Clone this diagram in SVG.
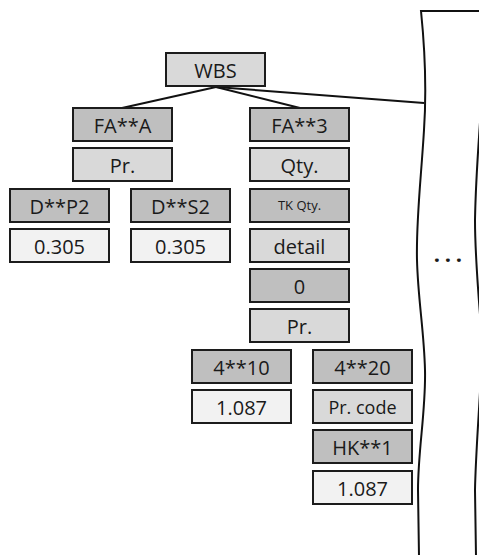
<svg xmlns="http://www.w3.org/2000/svg" width="479" height="555" viewBox="0 0 479 555">
<style>
rect{stroke:#1c1c1c;stroke-width:2}
.d{fill:#bfbfbf}.l{fill:#d9d9d9}.w{fill:#f2f2f2}
text{font-family:"Open Sans","Noto Sans",sans-serif;font-size:20px;fill:#1a1a1a;text-anchor:middle}
.sm{font-size:13px}
.c{stroke:#111;stroke-width:2;fill:none}
</style>
<g id="panel">
<path class="c" d="M482,11 L421,11 C426,60 426,100 424,130 C421,180 416,220 417,260 C418,300 424,330 425,370 C426,410 418,450 418,490 L419,556" stroke-width="1.8"/>
<path class="c" d="M482,80 C482,110 476,160 475,220 C475,260 479,300 482,340 C482,380 476,440 475,490 L476,556" stroke-width="1.8"/>
<text x="437 448 459" y="262" style="font-weight:bold;font-size:22px">...</text>
</g>
<g id="connectors">
<line class="c" x1="216" y1="87" x2="122" y2="108"/>
<line class="c" x1="216" y1="87" x2="300" y2="108"/>
<line class="c" x1="216" y1="87" x2="424" y2="103"/>
</g>
<g id="wbs"><rect class="l" x="166" y="53" width="99" height="33"/><text x="215.5" y="77.5">WBS</text></g>
<g id="faa"><rect class="d" x="73" y="108" width="99" height="33"/><text x="122.5" y="132.5">FA**A</text></g>
<g id="fa3"><rect class="d" x="250" y="108" width="99" height="33"/><text x="299.5" y="132.5">FA**3</text></g>
<g id="pr-left"><rect class="l" x="73" y="148" width="99" height="33"/><text x="122.5" y="172.5">Pr.</text></g>
<g id="qty"><rect class="l" x="250" y="148" width="99" height="33"/><text x="299.5" y="172.5">Qty.</text></g>
<g id="dp2"><rect class="d" x="10" y="189" width="99" height="33"/><text x="59.5" y="213.5">D**P2</text></g>
<g id="ds2"><rect class="d" x="131" y="189" width="99" height="33"/><text x="180.5" y="213.5">D**S2</text></g>
<g id="tkqty"><rect class="d" x="250" y="189" width="99" height="33"/><text class="sm" x="299.5" y="210">TK Qty.</text></g>
<g id="v1"><rect class="w" x="10" y="229" width="99" height="33"/><text x="59.5" y="253.5">0.305</text></g>
<g id="v2"><rect class="w" x="131" y="229" width="99" height="33"/><text x="180.5" y="253.5">0.305</text></g>
<g id="detail"><rect class="l" x="250" y="229" width="99" height="33"/><text x="299.5" y="253.5">detail</text></g>
<g id="zero"><rect class="d" x="250" y="269" width="99" height="33"/><text x="299.5" y="293.5">0</text></g>
<g id="pr-right"><rect class="l" x="250" y="309" width="99" height="33"/><text x="299.5" y="333.5">Pr.</text></g>
<g id="n410"><rect class="d" x="192" y="350" width="99" height="33"/><text x="241.5" y="374.5">4**10</text></g>
<g id="n420"><rect class="d" x="313" y="350" width="99" height="33"/><text x="362.5" y="374.5">4**20</text></g>
<g id="v3"><rect class="w" x="192" y="390" width="99" height="33"/><text x="241.5" y="414.5">1.087</text></g>
<g id="prcode"><rect class="l" x="313" y="390" width="99" height="33"/><text x="362.5" y="414" style="font-size:18px">Pr. code</text></g>
<g id="hk1"><rect class="d" x="313" y="430" width="99" height="33"/><text x="362.5" y="454.5">HK**1</text></g>
<g id="v4"><rect class="w" x="313" y="471" width="99" height="33"/><text x="362.5" y="495.5">1.087</text></g>
</svg>
